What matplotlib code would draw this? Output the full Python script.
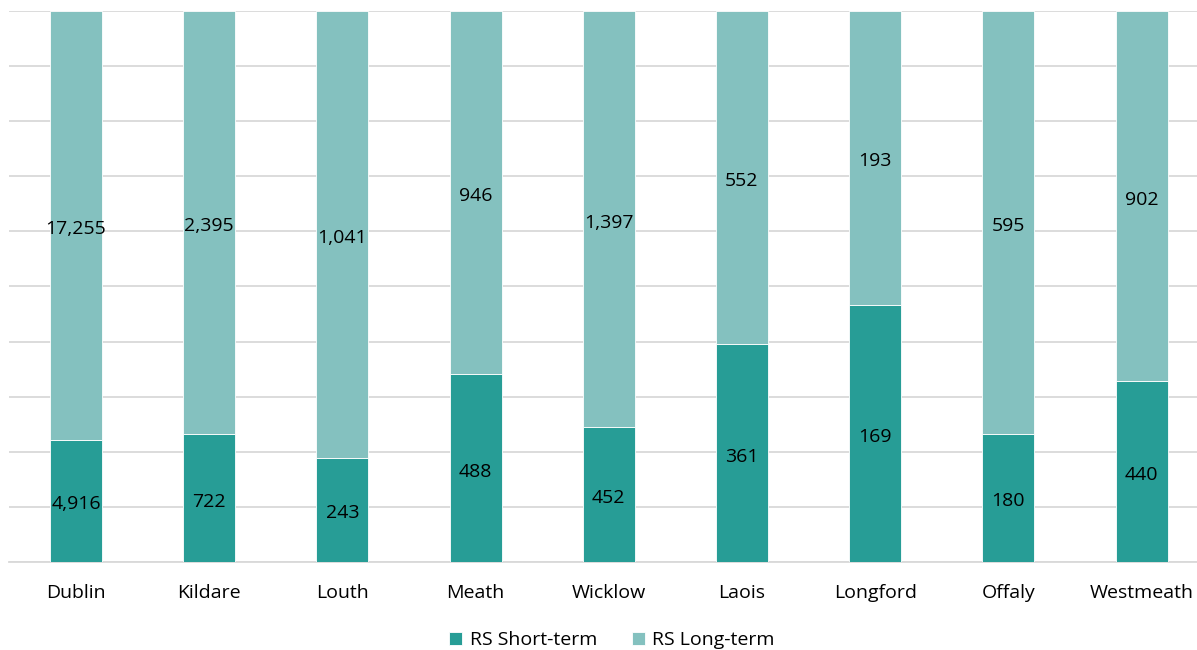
import matplotlib
matplotlib.use("Agg")
import matplotlib.pyplot as plt
import numpy as np

counties = ["Dublin", "Kildare", "Louth", "Meath", "Wicklow", "Laois", "Longford", "Offaly", "Westmeath"]
short_term = [4916, 722, 243, 488, 452, 361, 169, 180, 440]
long_term = [17255, 2395, 1041, 946, 1397, 552, 193, 595, 902]

short_color = "#279D96"
long_color = "#84C1BF"

plt.rcParams["font.family"] = ["Open Sans", "DejaVu Sans"]

fig = plt.figure(figsize=(11.97, 6.5), dpi=100)
ax = fig.add_axes([9.4 / 1197, 88 / 650, 1198.8 / 1197, 551 / 650])

short = np.array(short_term, dtype=float)
long_ = np.array(long_term, dtype=float)
total = short + long_
s_share = short / total
l_share = long_ / total
x = np.arange(len(counties))
w = 0.39

b1 = ax.bar(x, s_share, w, color=short_color, edgecolor="white", linewidth=0.6,
            label="RS Short-term", zorder=3)
b2 = ax.bar(x, l_share, w, bottom=s_share, color=long_color, edgecolor="white",
            linewidth=0.6, label="RS Long-term", zorder=3)

for i in range(len(counties)):
    ax.annotate(f"{short_term[i]:,}", (x[i], s_share[i] / 2), xytext=(0, -2.5),
                textcoords="offset points", ha="center", va="center",
                fontsize=14, color="black", zorder=4)
    ax.annotate(f"{long_term[i]:,}", (x[i], s_share[i] + l_share[i] / 2),
                xytext=(0, -2.5), textcoords="offset points", ha="center",
                va="center", fontsize=14, color="black", zorder=4)

ax.set_xlim(-0.5, len(counties) - 0.5)
ax.set_ylim(0, 1)
ax.set_yticks(np.arange(0, 1.01, 0.1))
ax.set_yticklabels([])
ax.tick_params(axis="y", length=0)
ax.tick_params(axis="x", length=0, pad=16, labelsize=14)
ax.set_xticks(x)
ax.set_xticklabels(counties)
ax.grid(axis="y", color="#d9d9d9", linewidth=1.3, zorder=0)
for side in ["top", "right", "left"]:
    ax.spines[side].set_visible(False)
ax.spines["bottom"].set_color("#d9d9d9")
ax.spines["bottom"].set_linewidth(1.3)

fig.legend(handles=[b1, b2], loc="center", bbox_to_anchor=(612 / 1197, 1 - 640 / 650),
           ncol=2, frameon=False, fontsize=14, handlelength=0.65, handleheight=0.65,
           handletextpad=0.4, columnspacing=1.8)

fig.savefig("out.png", dpi=100)
